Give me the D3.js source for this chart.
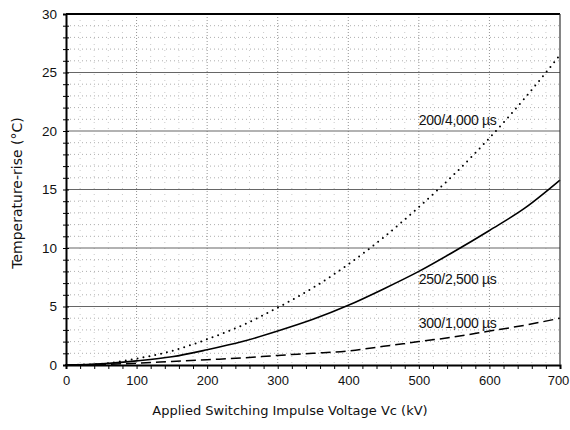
<!DOCTYPE html>
<html>
<head>
<meta charset="utf-8">
<script src="https://cdn.jsdelivr.net/npm/d3@7"></script>
<style>
  body { margin: 0; background: #fff; }
  svg { font-family: "Liberation Sans", Arial, sans-serif; }
  text { fill: #111; }
</style>
</head>
<body>
<script>
// voltage steps (kV)
var voltage = [0, 50, 100, 150, 200, 250, 300, 350, 400, 450, 500, 550, 600, 650, 700];
// temperature rise per waveform (°C)
var rise_200_4000 = [0, 0.1, 0.55, 1.2, 2.2, 3.4, 4.9, 6.6, 8.6, 10.9, 13.5, 16.3, 19.4, 22.8, 26.5];
var rise_250_2500 = [0, 0.1, 0.35, 0.7, 1.3, 2.0, 2.9, 3.9, 5.1, 6.5, 8.0, 9.7, 11.5, 13.4, 15.8];
var rise_300_1000 = [0, 0.05, 0.15, 0.3, 0.45, 0.6, 0.82, 1.0, 1.2, 1.6, 2.0, 2.4, 2.9, 3.4, 4.0];
var seriesNames = ["200/4,000 \u00b5s", "250/2,500 \u00b5s", "300/1,000 \u00b5s"];
// where each curve's label sits (kV, °C)
var labelAt = [[500, 20.9], [500, 7.35], [500, 3.6]];

var margin = {top: 14, right: 10, bottom: 65, left: 66};
var width = 570, height = 430;
var w = 560 - margin.left, h = 365 - margin.top;

var x = d3.scaleLinear().domain([0, 700]).range([0, w]);
var y = d3.scaleLinear().domain([0, 30]).range([h, 0]);

var svg = d3.select("body").append("svg")
  .attr("width", width)
  .attr("height", height);

var g = svg.append("g")
  .attr("transform", "translate(" + margin.left + "," + margin.top + ")");

// minor grid, every 1 degree and every 20 kV
g.append("g")
  .selectAll("line")
  .data(d3.range(1, 30).filter(d => d % 5 != 0))
  .join("line")
    .attr("x1", 0).attr("x2", w)
    .attr("y1", d => y(d)).attr("y2", d => y(d))
    .attr("stroke", "#999").attr("stroke-width", 0.8)
    .attr("stroke-dasharray", "1,3");

g.append("g")
  .selectAll("line")
  .data(d3.range(20, 700, 20))
  .join("line")
    .attr("x1", d => x(d)).attr("x2", d => x(d))
    .attr("y1", 0).attr("y2", h)
    .attr("stroke", d => d % 100 == 0 ? "#777" : "#bbb").attr("stroke-width", 0.8)
    .attr("stroke-dasharray", d => d % 100 == 0 ? "1,2" : "1,5");

// major horizontal grid
g.append("g")
  .selectAll("line")
  .data([5, 10, 15, 20, 25])
  .join("line")
    .attr("x1", 0).attr("x2", w)
    .attr("y1", d => y(d)).attr("y2", d => y(d))
    .attr("stroke", "#666").attr("stroke-width", 1.2);

// curves
var line = d3.line()
  .curve(d3.curveMonotoneX)
  .x((d, i) => x(voltage[i]))
  .y(d => y(d));

g.append("path").datum(rise_200_4000)
  .attr("d", line).attr("fill", "none")
  .attr("stroke", "#000").attr("stroke-width", 2)
  .attr("stroke-linecap", "round")
  .attr("stroke-dasharray", "0,6");

g.append("path").datum(rise_250_2500)
  .attr("d", line).attr("fill", "none")
  .attr("stroke", "#000").attr("stroke-width", 1.6);

g.append("path").datum(rise_300_1000)
  .attr("d", line).attr("fill", "none")
  .attr("stroke", "#000").attr("stroke-width", 1.5)
  .attr("stroke-dasharray", "10,5");

// curve labels
g.append("g")
  .selectAll("text")
  .data(seriesNames)
  .join("text")
    .attr("x", (d, i) => x(labelAt[i][0]))
    .attr("y", (d, i) => y(labelAt[i][1]))
    .attr("dy", "0.35em")
    .style("font-size", "14px")
    .style("letter-spacing", "-0.3px")
    .text(d => d);

// axes
var xAxis = d3.axisBottom(x).tickValues(d3.range(0, 701, 20))
  .tickSize(4).tickFormat(d => d % 100 == 0 ? d : "").tickPadding(7);
var gx = g.append("g")
  .attr("transform", "translate(0," + h + ")")
  .call(xAxis);
gx.select(".domain").attr("stroke-width", 2);
gx.selectAll("text").style("font-size", "13px").style("font-family", "Liberation Sans, Arial, sans-serif");
gx.selectAll(".tick text").filter(d => d == 700).attr("dx", -2);

var yAxis = d3.axisLeft(y).tickValues(d3.range(0, 31, 1))
  .tickSize(3).tickFormat(d => d % 5 == 0 ? d : "").tickPadding(6);
var gy = g.append("g").call(yAxis);
gy.select(".domain").attr("stroke-width", 2);
gy.selectAll("text").style("font-size", "13.5px").style("font-family", "Liberation Sans, Arial, sans-serif");
gy.selectAll(".tick line").attr("x2", 3).attr("x1", -3);

// frame top and right
g.append("line").attr("x1", 0).attr("x2", w).attr("y1", 0).attr("y2", 0)
  .attr("stroke", "#000").attr("stroke-width", 1.8);
g.append("line").attr("x1", w).attr("x2", w).attr("y1", 0).attr("y2", h)
  .attr("stroke", "#333").attr("stroke-width", 1.2);

// titles
svg.append("text")
  .attr("x", 290).attr("y", 415)
  .attr("text-anchor", "middle")
  .style("font-size", "13px")
  .style("font-family", "DejaVu Sans, sans-serif")
  .text("Applied Switching Impulse Voltage Vc (kV)");

svg.append("text")
  .attr("transform", "translate(22,193) rotate(-90)")
  .attr("text-anchor", "middle")
  .style("font-size", "14px")
  .style("font-family", "DejaVu Sans, sans-serif")
  .text("Temperature-rise (\u00b0C)");
</script>
</body>
</html>
